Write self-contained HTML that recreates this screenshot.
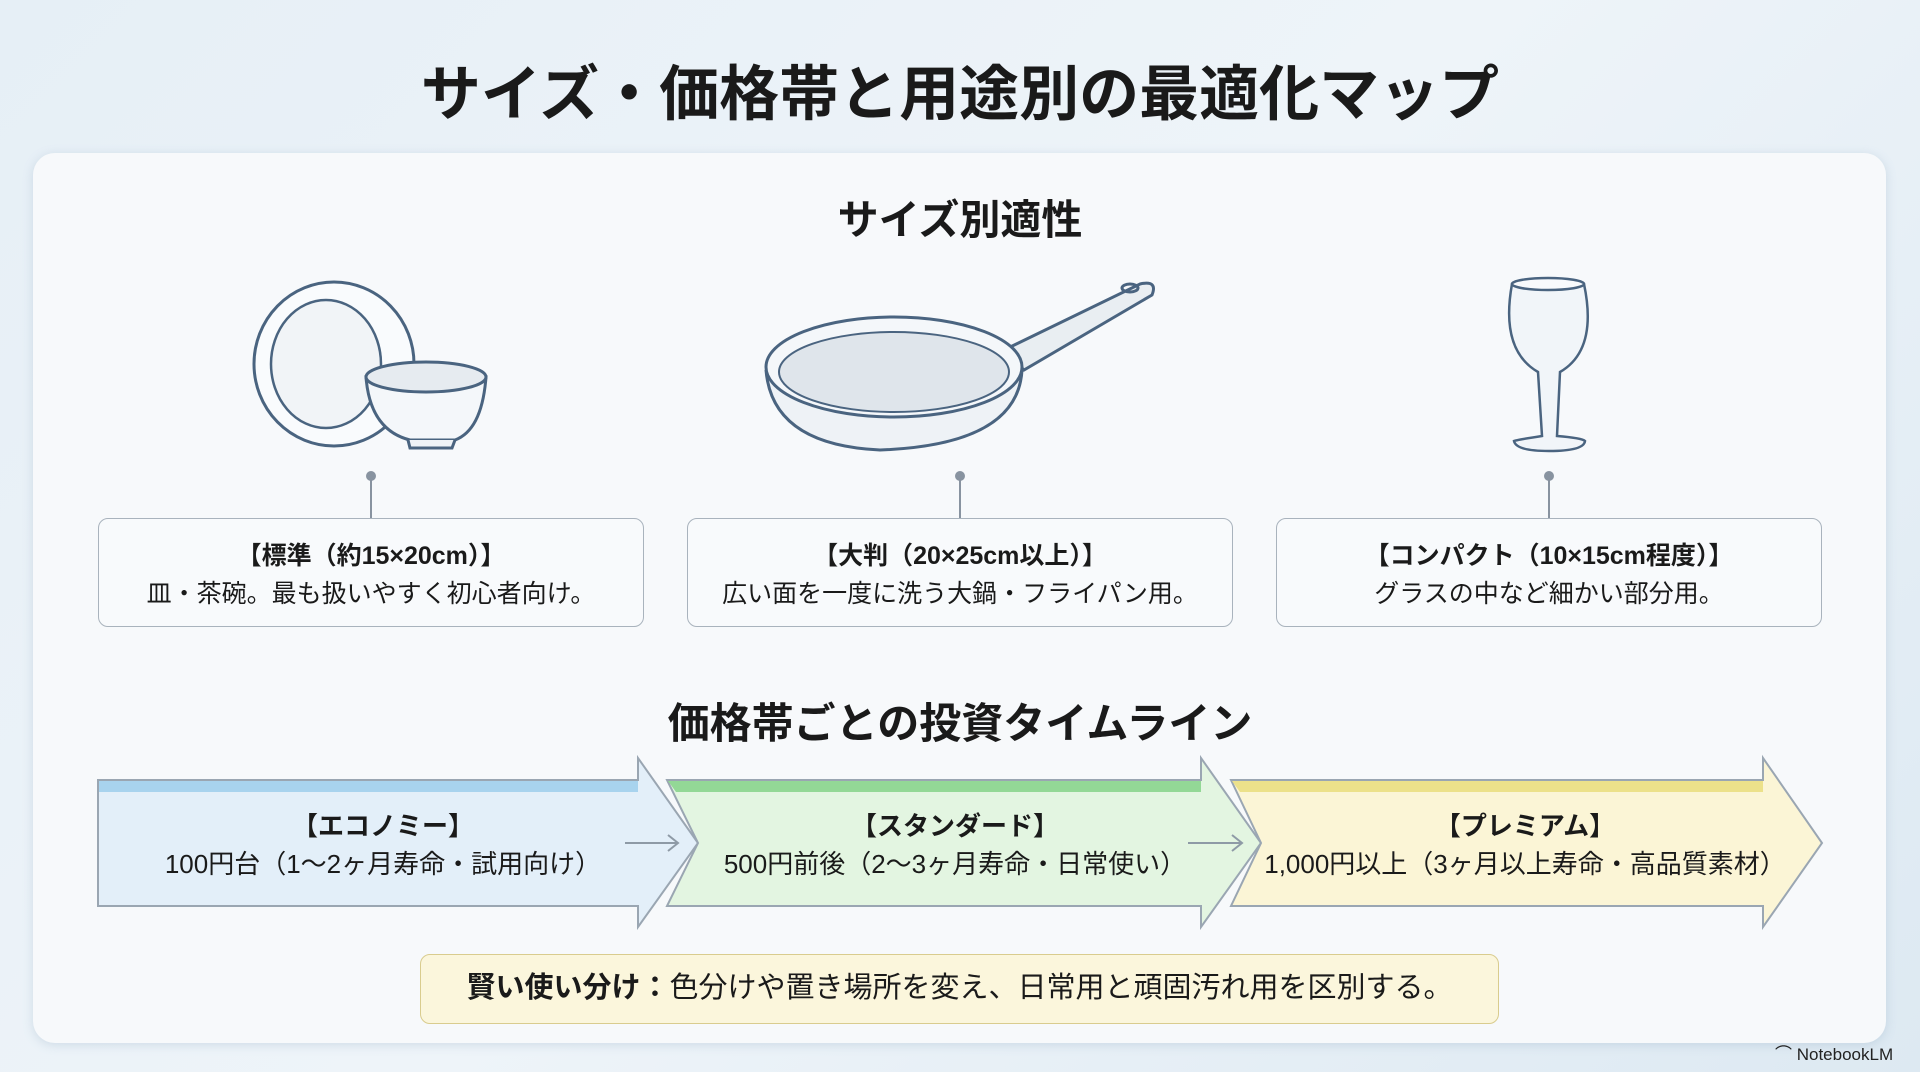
<!DOCTYPE html>
<html><head><meta charset="utf-8">
<style>
*{margin:0;padding:0;box-sizing:border-box}
body{width:1920px;height:1072px;overflow:hidden;background:linear-gradient(135deg,#e6eff6,#eef4f9 50%,#dde9f2);font-family:"Liberation Sans","Noto Sans CJK JP",sans-serif;color:#1a1a1a;position:relative}
.t{position:absolute;white-space:nowrap;text-align:center}
.card{position:absolute;left:33px;top:153px;width:1853px;height:890px;background:#f7f9fb;border-radius:22px;box-shadow:0 2px 10px rgba(120,150,180,.25)}
.box{position:absolute;top:518px;width:546px;height:109px;border:1.5px solid #a9b3bd;border-radius:10px;background:#f8fafc}
.box div{position:absolute;left:0;width:100%;text-align:center;font-size:25px}
.b1{top:17px;font-weight:bold}
.b2{top:55px}
.al{position:absolute;width:100%;text-align:center;font-size:26px}
</style></head><body>
<div class="t" style="left:0;width:1920px;top:46px;font-size:60px;font-weight:bold;">サイズ・価格帯と用途別の最適化マップ</div>
<div class="card"></div>
<div class="t" style="left:0;width:1920px;top:186px;font-size:41px;font-weight:bold;">サイズ別適性</div>
<svg width="1920" height="1072" style="position:absolute;left:0;top:0" fill="none" stroke="#4a6480" stroke-width="3">
<ellipse cx="334" cy="364" rx="80" ry="82" fill="#f9fbfd"/>
<ellipse cx="326" cy="364" rx="55" ry="64" stroke-width="2.5" fill="#f1f4f7"/>
<path d="M366 377 Q370 430 410 440 L455 440 Q482 430 486 377 Z" fill="#f4f7fa"/>
<ellipse cx="426" cy="377" rx="60" ry="15" fill="#e6ebf0"/>
<path d="M408 440 L410 448 L452 448 L455 440" fill="#eef2f6"/>
<path d="M1004 350 L1140 284 Q1158 280 1152 295 L1024 370 Z" fill="#e9eef2"/>
<ellipse cx="1130" cy="288" rx="8" ry="4"/>
<path d="M766 370 Q772 445 880 450 Q1018 445 1022 370" fill="#eef2f6"/>
<ellipse cx="894" cy="367" rx="128" ry="50" fill="#f4f7fa"/>
<ellipse cx="894" cy="372" rx="115" ry="40" stroke-width="2" fill="#dfe5eb"/>
<path d="M1512 284 Q1500 350 1538 372 L1542 436 Q1516 440 1514 441 Q1516 451 1549 451 Q1584 451 1585 441 Q1582 438 1557 436 L1560 372 Q1598 350 1584 284 Z" fill="#f1f5f9" stroke-width="2.5"/>
<ellipse cx="1548" cy="284" rx="36" ry="6" fill="#f8fafc" stroke-width="2.5"/>
<g stroke="#8893a0" stroke-width="2" fill="#8893a0">
<line x1="371" y1="476" x2="371" y2="518"/><circle cx="371" cy="476" r="4"/>
<line x1="960" y1="476" x2="960" y2="518"/><circle cx="960" cy="476" r="4"/>
<line x1="1549" y1="476" x2="1549" y2="518"/><circle cx="1549" cy="476" r="4"/>
</g>
<g stroke="#9aa6b2" stroke-width="2">
<polygon points="98,780 638,780 638,758 698,843 638,927 638,906 98,906" fill="#e3eff9"/>
<polygon points="667,780 1201,780 1201,758 1261,843 1201,927 1201,906 667,906 698,843" fill="#e3f5e1"/>
<polygon points="1231,780 1763,780 1763,758 1822,843 1763,927 1763,906 1231,906 1261,843" fill="#fbf5d6"/>
</g>
<rect x="99" y="781" width="539" height="11" fill="#a8d3ee" stroke="none"/>
<polygon points="668,781 1201,781 1201,792 676,792" fill="#93d896" stroke="none"/>
<polygon points="1232,781 1763,781 1763,792 1240,792" fill="#ece18a" stroke="none"/>
<g stroke="#8e9aa6" stroke-width="2"><path d="M625 843 H678 M668 835 L678 843 L668 851"/><path d="M1188 843 H1242 M1232 835 L1242 843 L1232 851"/></g>
</svg>
<div class="box" style="left:98px"><div class="b1">【標準（約15×20cm）】</div><div class="b2">皿・茶碗。最も扱いやすく初心者向け。</div></div>
<div class="box" style="left:687px"><div class="b1">【大判（20×25cm以上）】</div><div class="b2">広い面を一度に洗う大鍋・フライパン用。</div></div>
<div class="box" style="left:1276px"><div class="b1">【コンパクト（10×15cm程度）】</div><div class="b2">グラスの中など細かい部分用。</div></div>
<div class="t" style="left:0;width:1920px;top:690px;font-size:42px;font-weight:bold;">価格帯ごとの投資タイムライン</div>
<div class="t" style="left:98px;width:570px;top:806px"><div class="al" style="font-weight:bold">【エコノミー】</div><div class="al" style="top:38px">100円台（1〜2ヶ月寿命・試用向け）</div></div>
<div class="t" style="left:680px;width:550px;top:806px"><div class="al" style="font-weight:bold">【スタンダード】</div><div class="al" style="top:38px">500円前後（2〜3ヶ月寿命・日常使い）</div></div>
<div class="t" style="left:1245px;width:560px;top:806px"><div class="al" style="font-weight:bold">【プレミアム】</div><div class="al" style="top:38px">1,000円以上（3ヶ月以上寿命・高品質素材）</div></div>
<div style="position:absolute;left:420px;top:954px;width:1079px;height:70px;background:#fbf6dc;border:1.5px solid #d9cc8e;border-radius:10px;text-align:center;line-height:67px;font-size:29px"><b>賢い使い分け：</b>色分けや置き場所を変え、日常用と頑固汚れ用を区別する。</div>
<div class="t" style="left:1775px;top:1040px;font-size:17px;color:#222">⌒ NotebookLM</div>
</body></html>
